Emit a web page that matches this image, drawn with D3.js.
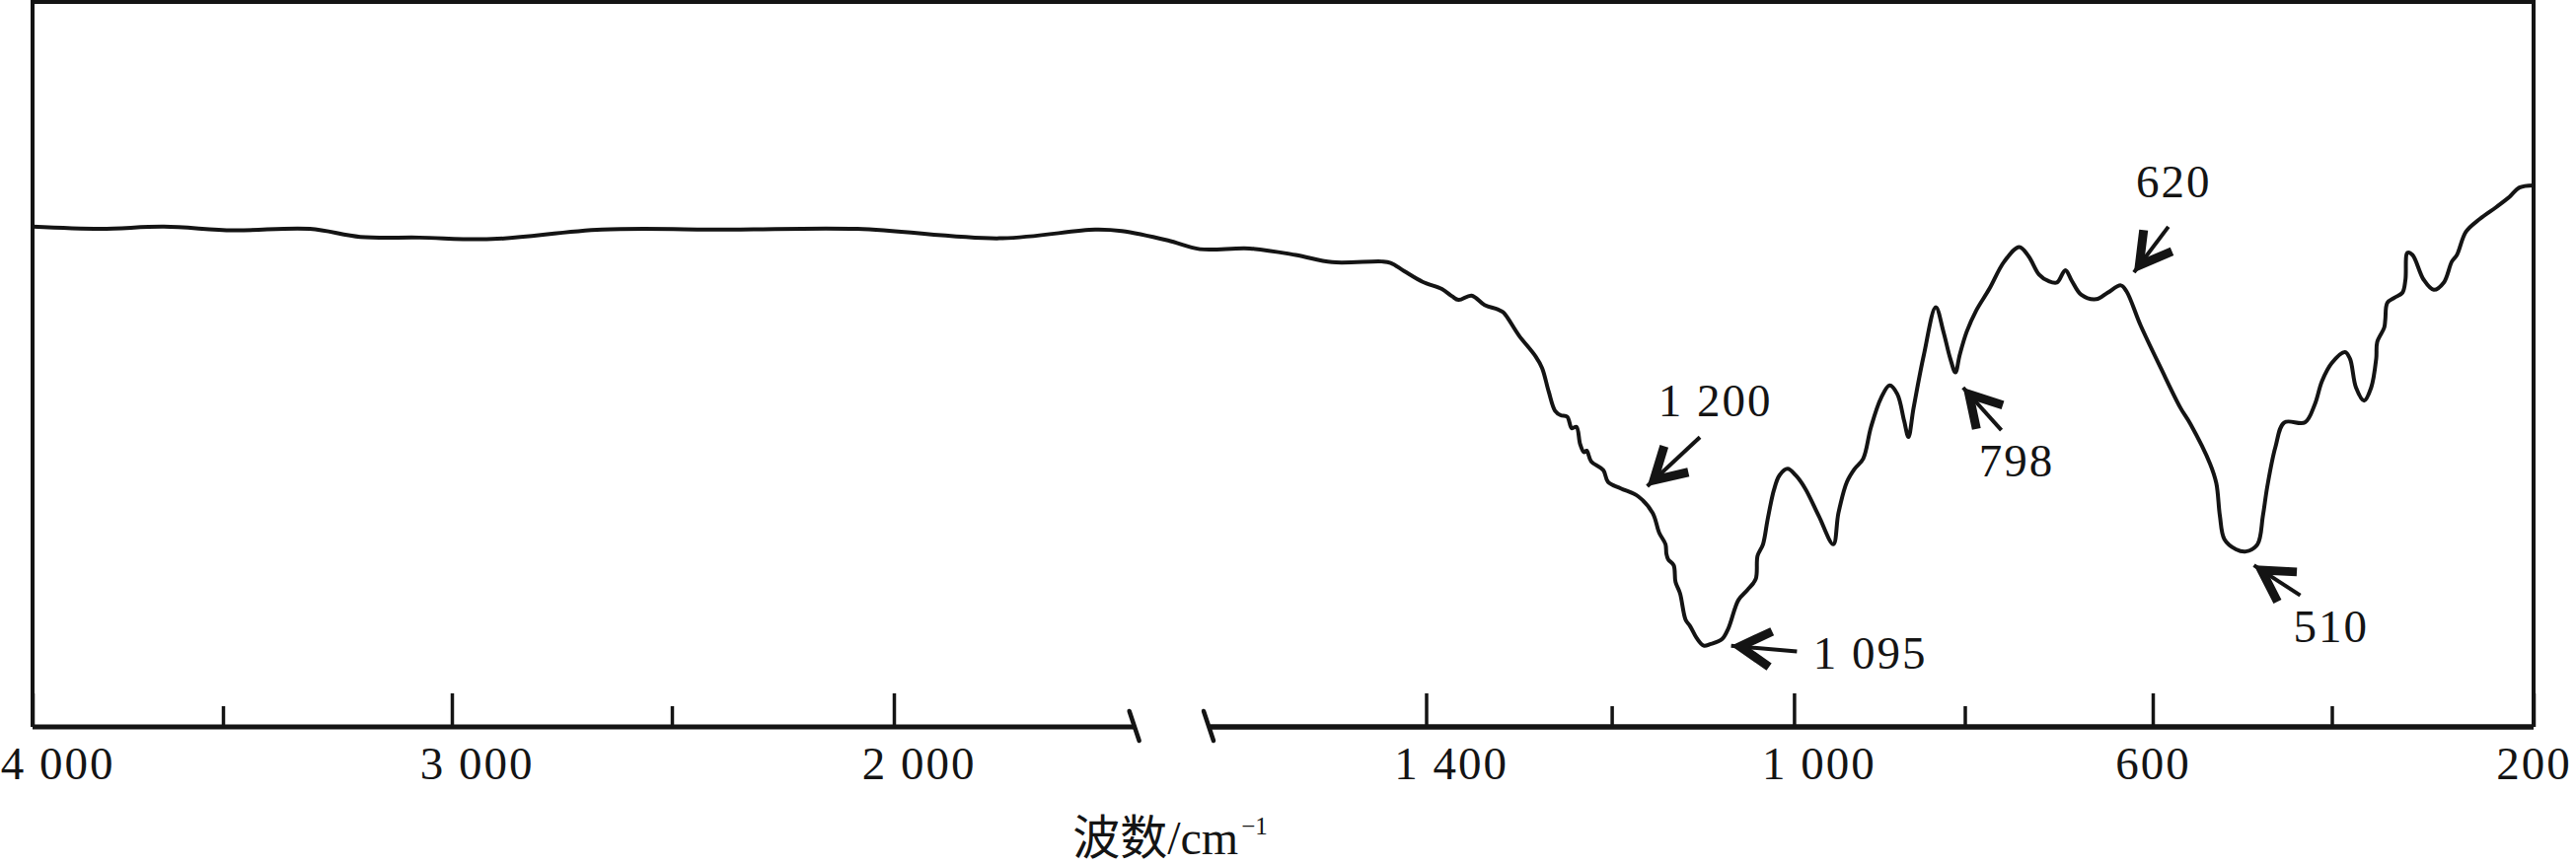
<!DOCTYPE html>
<html lang="zh">
<head>
    <meta charset="UTF-8">
    <title>红外光谱</title>
    <style>
        html, body { margin: 0; padding: 0; background: #fff; }
        #chart { width: 2611px; height: 876px; }
    </style>
</head>

<body>
<div id="chart"></div>

<script src="https://d3js.org/d3.v7.min.js"></script>
<script type="text/javascript">

        // spectrum (wavenumber in cm-1, transmittance in %)
        const wavenumber = [
                4000, 3821, 3655, 3478, 3310, 3200, 3071, 2908, 2659, 2369,
                2082, 1881, 1773, 1743, 1691, 1655, 1599, 1547, 1506, 1450,
                1440, 1425, 1404, 1383, 1372, 1365, 1351, 1337, 1323, 1317,
                1300, 1282, 1275, 1268, 1261, 1255, 1248, 1243, 1238, 1234,
                1230, 1227, 1222, 1209, 1204, 1190, 1171, 1155, 1148, 1141,
                1140, 1138, 1132, 1130, 1125, 1119, 1114, 1107, 1099, 1092,
                1079, 1072, 1061, 1051, 1042, 1040, 1034, 1029, 1022, 1016,
                1007, 998, 987, 971, 954, 948, 938, 929, 919, 910,
                898, 888, 879, 871, 866, 860, 848, 834, 825, 817,
                811, 806, 798, 788, 774, 758, 742, 732, 721, 711,
                702, 693, 686, 676, 660, 648, 634, 628, 613, 591,
                569, 558, 536, 529, 525, 520, 507, 496, 483, 477,
                472, 463, 453, 430, 419, 411, 400, 387, 382, 376,
                368, 361, 356, 355, 348, 347, 345, 338, 330, 327,
                325, 320, 309, 299, 289, 281, 276, 267, 253, 237,
                224, 214, 200
        ];
        const transmittance = [
                69.0, 68.7, 69.0, 68.5, 68.7, 67.6, 67.5, 67.3, 68.6, 68.6,
                68.7, 67.4, 68.6, 68.4, 67.1, 65.9, 66.0, 65.1, 64.1, 64.2,
                64.0, 62.9, 61.4, 60.4, 59.4, 58.9, 59.5, 58.2, 57.6, 57.2,
                54.0, 51.1, 49.5, 46.3, 43.6, 43.0, 42.8, 41.2, 41.4, 39.0,
                37.9, 38.1, 36.6, 35.4, 33.8, 32.9, 31.8, 29.5, 26.8, 25.2,
                23.9, 23.1, 22.3, 20.0, 18.4, 14.8, 13.9, 12.3, 11.2, 11.4,
                12.1, 13.6, 17.5, 18.9, 20.4, 23.6, 25.2, 28.6, 32.7, 34.7,
                35.6, 34.7, 32.9, 29.1, 25.2, 29.5, 33.8, 35.6, 37.0, 41.3,
                45.4, 47.1, 45.9, 42.2, 40.0, 44.0, 51.3, 57.9, 54.5, 50.8,
                48.9, 51.3, 54.5, 57.4, 60.4, 64.2, 66.2, 64.9, 62.4, 61.5,
                61.3, 63.0, 61.5, 59.6, 59.0, 59.9, 60.9, 60.1, 55.4, 49.5,
                44.0, 41.8, 36.3, 33.6, 29.1, 25.9, 24.5, 24.2, 25.2, 29.1,
                33.2, 38.6, 42.0, 42.0, 44.5, 47.7, 50.2, 51.7, 50.8, 46.8,
                45.0, 46.8, 50.8, 53.1, 55.1, 56.2, 58.5, 59.2, 59.9, 61.7,
                65.4, 65.1, 61.7, 60.3, 61.3, 64.2, 65.1, 68.3, 70.1, 71.7,
                73.1, 74.4, 74.7
        ];

        const majorTicks = [4000, 3000, 2000, 1400, 1000, 600, 200];
        const minorTicks = [3500, 2500, 1200, 800, 400];
        const axisBreak = [1729, 1643];

        // marked bands
        const peakLabels = ["1 200", "1 095", "798", "620", "510"];
        const peakWavenumber = [1161, 1069, 802, 620, 487];
        const peakTransmittance = [33.2, 11.2, 46.8, 62.7, 22.3];

        const width = 2611;
        const height = 876;
        const ink = "#141414";
        const serif = "'Liberation Serif', 'Times New Roman', 'Noto Sans CJK SC', serif";

        const svg = d3.select("#chart")
                .append("svg")
                .attr("width", width)
                .attr("height", height)
                .style("background", "#fff");

        //the axis was drawn with uneven spacing, so the scale is pinned at every tick
        const x = d3.scaleLinear()
                .domain([4000, 3500, 3000, 2500, 2000, 1400, 1200, 1000, 800, 600, 400, 200])
                .range([33, 226, 458, 681, 906, 1445.5, 1633.6, 1818.4, 1991.5, 2182, 2363.5, 2568]);

        const y = d3.scaleLinear()
                .domain([0, 100])
                .range([737, 2]);

        //Frame (left, top, right)
        svg.append("path")
                .attr("d", `M${x(4000)},${y(0)}V${y(100)}H${x(200)}V${y(0)}`)
                .attr("fill", "none")
                .attr("stroke", ink)
                .attr("stroke-width", 4);

        //Broken bottom axis
        svg.append("line")
                .attr("x1", x(4000)).attr("x2", x(axisBreak[0]))
                .attr("y1", y(0)).attr("y2", y(0))
                .attr("stroke", ink).attr("stroke-width", 5);
        svg.append("line")
                .attr("x1", x(axisBreak[1])).attr("x2", x(200))
                .attr("y1", y(0)).attr("y2", y(0))
                .attr("stroke", ink).attr("stroke-width", 5.5);

        svg.selectAll(".break")
                .data(axisBreak)
                .enter()
                .append("line")
                .attr("class", "break")
                .attr("x1", (d, i) => x(d) - 5 - i * 2)
                .attr("x2", (d, i) => x(d) + 5 - i * 2)
                .attr("y1", y(0) - 16)
                .attr("y2", y(0) + 14)
                .attr("stroke", ink)
                .attr("stroke-width", 4.5)
                .attr("stroke-linecap", "round");

        //Ticks
        const fmt = d3.formatLocale({decimal: ".", thousands: " ", grouping: [3], currency: ["", ""]}).format(",");

        const major = svg.append("g")
                .attr("transform", `translate(0,${y(0)})`)
                .call(d3.axisBottom(x)
                        .tickValues(majorTicks)
                        .tickSize(-34)
                        .tickPadding(20)
                        .tickFormat(fmt));

        const minor = svg.append("g")
                .attr("transform", `translate(0,${y(0)})`)
                .call(d3.axisBottom(x)
                        .tickValues(minorTicks)
                        .tickSize(-21)
                        .tickFormat(() => ""));

        [major, minor].forEach(function (g) {
                g.select(".domain").remove();
                g.selectAll(".tick line")
                        .attr("stroke", ink)
                        .attr("stroke-width", 3.5);
        });

        major.attr("font-family", serif)
                .attr("font-size", 47);
        major.selectAll(".tick text")
                .attr("fill", ink)
                .attr("dx", d => d >= 1000 ? 25 : 0)
                .style("letter-spacing", "2px");

        //Spectrum
        const line = d3.line()
                .x(i => x(wavenumber[i]))
                .y(i => y(transmittance[i]))
                .curve(d3.curveCatmullRom.alpha(0.5));

        svg.append("path")
                .datum(d3.range(wavenumber.length))
                .attr("d", line)
                .attr("fill", "none")
                .attr("stroke", ink)
                .attr("stroke-width", 4)
                .attr("stroke-linejoin", "round")
                .attr("stroke-linecap", "round");

        //Arrows: direction of the shaft (deg), shaft length, label offset from the tip
        const arrowStyle = [
                {angle: -43, shaft: 73, dx: 11, dy: -71},
                {angle: 5, shaft: 67, dx: 83, dy: 23},
                {angle: 48, shaft: 58, dx: 16, dy: 90},
                {angle: -53, shaft: 58, dx: 2, dy: -76},
                {angle: 33, shaft: 56, dx: 40, dy: 78}
        ];

        const notes = svg.selectAll(".note")
                .data(peakLabels)
                .enter()
                .append("g")
                .attr("class", "note")
                .attr("transform", (d, i) => `translate(${x(peakWavenumber[i])},${y(peakTransmittance[i])})`);

        notes.append("line")
                .attr("x2", (d, i) => arrowStyle[i].shaft * Math.cos(arrowStyle[i].angle * Math.PI / 180))
                .attr("y2", (d, i) => arrowStyle[i].shaft * Math.sin(arrowStyle[i].angle * Math.PI / 180))
                .attr("stroke", ink)
                .attr("stroke-width", 4);

        notes.append("path")
                .attr("d", function (d, i) {
                        const a = arrowStyle[i].angle * Math.PI / 180;
                        const vx = 9 * Math.cos(a), vy = 9 * Math.sin(a);
                        const arm = 36, half = 30 * Math.PI / 180;
                        return `M${vx + arm * Math.cos(a - half)},${vy + arm * Math.sin(a - half)}`
                                + `L${vx},${vy}`
                                + `L${vx + arm * Math.cos(a + half)},${vy + arm * Math.sin(a + half)}`;
                })
                .attr("fill", "none")
                .attr("stroke", ink)
                .attr("stroke-width", 9)
                .attr("stroke-linejoin", "miter");

        notes.append("text")
                .text(d => d)
                .attr("x", (d, i) => arrowStyle[i].dx)
                .attr("y", (d, i) => arrowStyle[i].dy)
                .attr("font-family", serif)
                .attr("font-size", 47)
                .attr("fill", ink)
                .style("letter-spacing", "2px");

        //Axis title
        const title = svg.append("text")
                .attr("x", 1186)
                .attr("y", 866)
                .attr("text-anchor", "middle")
                .attr("font-family", serif)
                .attr("font-size", 48)
                .attr("fill", ink);
        title.append("tspan").text("波数/cm");
        title.append("tspan")
                .text("−1")
                .attr("font-size", 25)
                .attr("dx", 3)
                .attr("dy", -20);

</script>
</body>
</html>
